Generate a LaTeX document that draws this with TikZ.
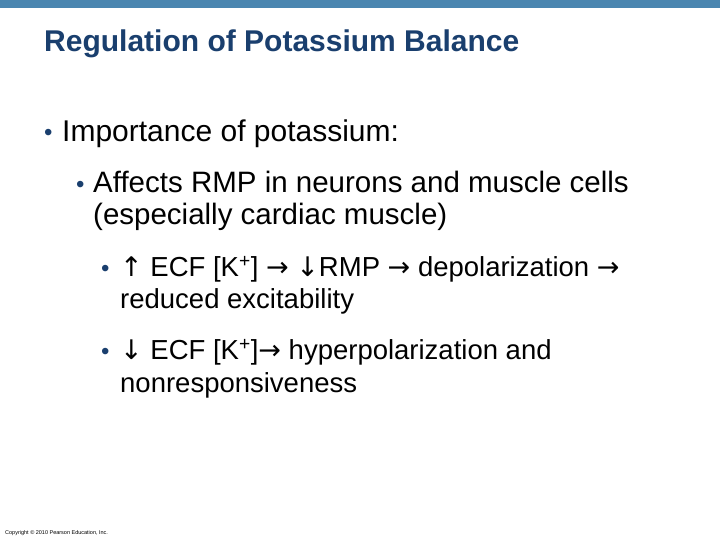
\documentclass[tikz,border=0pt]{standalone}
\usepackage{fontspec}
\setmainfont{Liberation Sans}
\newfontfamily\symf{DejaVu Sans}
\definecolor{barblue}{HTML}{4A86B0}
\definecolor{titleblue}{HTML}{1A3F6E}
\newcommand{\myar}[1]{{\symf\fontsize{27}{30}\selectfont #1}}
\begin{document}
\begin{tikzpicture}[x=1pt,y=1pt,
  txt/.style={anchor=base west,inner sep=0pt,font=\fontsize{30}{34}\selectfont},
  txtb/.style={anchor=base west,inner sep=0pt,font=\fontsize{29.5}{32}\selectfont},
  txtc/.style={anchor=base west,inner sep=0pt,font=\fontsize{27.5}{32}\selectfont},
  bul/.style={anchor=base west,inner sep=0pt,text=titleblue,font=\fontsize{24}{28}\selectfont}]
\useasboundingbox (0,0) rectangle (720,540);
\fill[white] (0,0) rectangle (720,540);
\fill[barblue] (0,532) rectangle (720,540);
\node[anchor=base west,inner sep=0pt,text=titleblue,font=\bfseries\fontsize{30}{34}\selectfont] (title) at (44,488) {Regulation of Potassium Balance};
\node[bul] (b1) at (44,399) {•};
\node[txt] (l1) at (62,398) {Importance of potassium:};
\node[bul] (b2) at (76,347) {•};
\node[txtb] (l2) at (93,347) {Affects RMP in neurons and muscle cells};
\node[txtb] (l2b) at (93,315) {(especially cardiac muscle)};
\node[bul] (b3) at (101,263) {•};
\node[txtc] (l3) at (120,263) {\myar{↑} ECF [K\textsuperscript{+}] \myar{→} \myar{↓}RMP \myar{→} depolarization \myar{→}};
\node[txtc] (l3b) at (120,231) {reduced excitability};
\node[bul] (b4) at (101,180) {•};
\node[txtc] (l4) at (120,180) {\myar{↓} ECF [K\textsuperscript{+}]\myar{→} hyperpolarization and};
\node[txtc] (l4b) at (120,147) {nonresponsiveness};
\node[anchor=base west,inner sep=0pt,font=\fontsize{5.5}{6}\selectfont] (copy) at (5,5) {Copyright © 2010 Pearson Education, Inc.};
\end{tikzpicture}
\end{document}
